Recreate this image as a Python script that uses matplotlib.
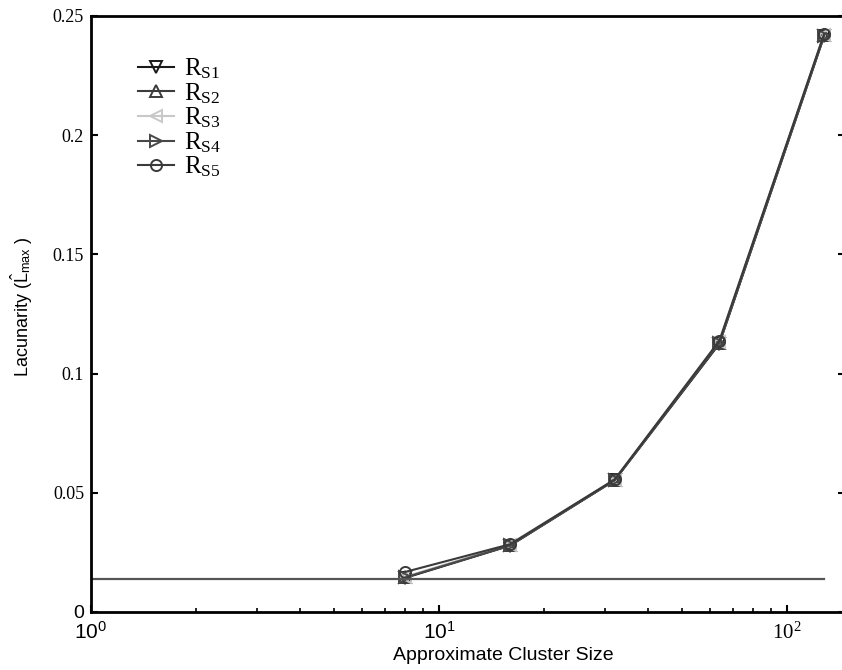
'''
Lacunarity vs approximate cluster size, five runs Rs1..Rs5
'''
import numpy as np
import matplotlib
matplotlib.use('Agg')
import matplotlib.pyplot as plt
from matplotlib.ticker import FixedLocator, LogLocator, NullFormatter

plt.rcParams['mathtext.fontset'] = 'custom'
plt.rcParams['mathtext.rm'] = 'Liberation Serif'
plt.rcParams['mathtext.sf'] = 'Liberation Sans'
plt.rcParams['mathtext.it'] = 'Liberation Serif:italic'

# data
cluster_size = [8, 16, 32, 64, 128]
rs1 = [0.0143, 0.0278, 0.0552, 0.1125, 0.2415]
rs2 = [0.0146, 0.0280, 0.0554, 0.1130, 0.2420]
rs3 = [0.0148, 0.0281, 0.0555, 0.1133, 0.2422]
rs4 = [0.0145, 0.0279, 0.0553, 0.1128, 0.2418]
rs5 = [0.0168, 0.0284, 0.0556, 0.1138, 0.2425]
series_labels = [r'R$_{\mathrm{S1}}$', r'R$_{\mathrm{S2}}$', r'R$_{\mathrm{S3}}$',
                 r'R$_{\mathrm{S4}}$', r'R$_{\mathrm{S5}}$']
baseline_y = 0.0138
baseline_x = [1, 128]

y_ticks = [0, 0.05, 0.1, 0.15, 0.2, 0.25]
y_ticklabels = ['0', '0.05', '0.1', '0.15', '0.2', '0.25']
x_ticks = [1, 10, 100]
x_ticklabels = [r'$\mathsf{10}^{\mathsf{0}}$', r'$\mathsf{10}^{\mathsf{1}}$', r'$\mathrm{10}^{\mathrm{2}}$']

W, H = 842, 670
fig = plt.figure(figsize=(W / 100, H / 100), dpi=100)
ax = fig.add_axes([91 / W, (H - 612) / H, (845 - 91) / W, (612 - 16) / H])

styles = [('v', '#1a1a1a'), ('^', '#3c3c3c'), ('<', '#c8c8c8'), ('>', '#484848'), ('o', '#3a3a3a')]
for vals, lab, (mk, col) in zip([rs1, rs2, rs3, rs4, rs5], series_labels, styles):
    ax.plot(cluster_size, vals, marker=mk, color=col, mfc='none', mec=col,
            ms=8, mew=1.4, lw=1.5, label=lab)

ax.plot(baseline_x, [baseline_y, baseline_y], color='#555555', lw=1.6)

ax.set_xscale('log')
ax.set_xlim(1, 147)
ax.set_ylim(0, 0.25)

ax.xaxis.set_major_locator(FixedLocator(x_ticks))
ax.set_xticklabels(x_ticklabels)
ax.xaxis.set_minor_locator(LogLocator(base=10, subs=np.arange(2, 10)))
ax.xaxis.set_minor_formatter(NullFormatter())
ax.yaxis.set_major_locator(FixedLocator(y_ticks))
ax.set_yticklabels(y_ticklabels)

ax.tick_params(axis='both', which='major', direction='in', length=5, width=1.5,
               top=False, right=True, labelsize=13)
ax.tick_params(axis='x', which='minor', direction='in', length=3, width=1.2, top=False)
ax.tick_params(axis='x', pad=7)
ax.tick_params(axis='y', pad=5)

for i, t in enumerate(ax.get_yticklabels()):
    t.set_family('Liberation Sans' if i == 0 else 'Liberation Serif')
    t.set_fontsize(14 if i == 0 else 13)
for t in ax.get_xticklabels():
    t.set_fontsize(15)

for s in ['left', 'bottom', 'top']:
    ax.spines[s].set_linewidth(2)
ax.spines['right'].set_visible(False)

ax.set_xlabel('Approximate Cluster Size', fontsize=14, family='Liberation Sans')
ax.xaxis.set_label_coords((503 - 91) / (845 - 91), -(655 - 612) / (612 - 16), transform=ax.transAxes)
ax.xaxis.label.set_va('center')
ax.set_ylabel(r'Lacunarity ($\hat{\mathsf{L}}_{\mathsf{max}}$ )', fontsize=13, family='Liberation Sans')
ax.yaxis.set_label_coords(-(91 - 22) / (845 - 91), (612 - 307) / (612 - 16), transform=ax.transAxes)
ax.yaxis.label.set_va('center')

leg = ax.legend(loc='upper left', bbox_to_anchor=(34 / (845 - 91), 1 - 28 / (612 - 16)),
                frameon=False, prop={'family': 'Liberation Serif', 'size': 18},
                handlelength=1.45, handletextpad=0.4, labelspacing=0.0, borderpad=0)

fig.savefig('out.png', dpi=100)
